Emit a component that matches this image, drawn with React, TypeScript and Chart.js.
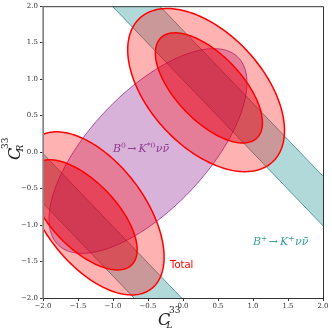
import React, { useEffect, useRef } from "react";
import { Chart, registerables } from "chart.js";

Chart.register(...registerables);

// Axis ranges and ticks
const X_RANGE = [-2, 2];
const Y_RANGE = [-2, 2];
const TICK_STEP = 0.5;

// B+ -> K+ nu nubar : bands in (C_L + C_R)
const tealBandLow = [0.99, -2.7];
const tealBandHigh = [1.67, -2.02];

// B0 -> K*0 nu nubar : ellipse (center, covariance-like shape)
const purpleCx = [-0.5];
const purpleCy = [0.015];
const purpleSxx = [2.0];
const purpleSyy = [1.97];
const purpleSxy = [1.32];

// Total : outer contours
const outerCx = [0.33, -1.27];
const outerCy = [0.85, -0.84];
const outerSxx = [1.254, 1.0];
const outerSyy = [1.25, 1.25];
const outerSxy = [-0.62, -0.6];

// Total : inner contours
const innerCx = [0.37, -1.42];
const innerCy = [0.88, -0.86];
const innerSxx = [0.585, 0.585];
const innerSyy = [0.57, 0.57];
const innerSxy = [-0.365, -0.365];

function fmt(v: number) {
  const s = Math.abs(v).toFixed(1);
  return v < 0 ? "\u2212" + s : s;
}

function ellipsePath(ctx: CanvasRenderingContext2D, xs: any, ys: any, cx: number, cy: number, sxx: number, syy: number, sxy: number) {
  const l11 = Math.sqrt(sxx);
  const l21 = sxy / l11;
  const l22 = Math.sqrt(syy - l21 * l21);
  const n = 240;
  ctx.beginPath();
  for (let i = 0; i <= n; i++) {
    const t = (2 * Math.PI * i) / n;
    const x = cx + l11 * Math.cos(t);
    const y = cy + l21 * Math.cos(t) + l22 * Math.sin(t);
    const px = xs.getPixelForValue(x);
    const py = ys.getPixelForValue(y);
    if (i === 0) ctx.moveTo(px, py);
    else ctx.lineTo(px, py);
  }
  ctx.closePath();
}

const regionsPlugin = {
  id: "regions",
  beforeDatasetsDraw(chart: any) {
    const { ctx, chartArea: a, scales } = chart;
    const xs = scales.x;
    const ys = scales.y;
    ctx.save();
    ctx.beginPath();
    ctx.rect(a.left, a.top, a.right - a.left, a.bottom - a.top);
    ctx.clip();

    // teal bands
    for (let i = 0; i < tealBandLow.length; i++) {
      const lo = tealBandLow[i];
      const hi = tealBandHigh[i];
      ctx.beginPath();
      ctx.moveTo(xs.getPixelForValue(-4), ys.getPixelForValue(lo + 4));
      ctx.lineTo(xs.getPixelForValue(4), ys.getPixelForValue(lo - 4));
      ctx.lineTo(xs.getPixelForValue(4), ys.getPixelForValue(hi - 4));
      ctx.lineTo(xs.getPixelForValue(-4), ys.getPixelForValue(hi + 4));
      ctx.closePath();
      ctx.fillStyle = "rgba(0,128,128,0.3)";
      ctx.fill();
      ctx.strokeStyle = "rgba(0,100,100,0.75)";
      ctx.lineWidth = 0.8;
      for (const c of [lo, hi]) {
        ctx.beginPath();
        ctx.moveTo(xs.getPixelForValue(-4), ys.getPixelForValue(c + 4));
        ctx.lineTo(xs.getPixelForValue(4), ys.getPixelForValue(c - 4));
        ctx.stroke();
      }
    }

    // purple ellipse
    for (let i = 0; i < purpleCx.length; i++) {
      ellipsePath(ctx, xs, ys, purpleCx[i], purpleCy[i], purpleSxx[i], purpleSyy[i], purpleSxy[i]);
      ctx.fillStyle = "rgba(128,0,128,0.3)";
      ctx.fill();
      ctx.strokeStyle = "rgba(128,0,128,0.8)";
      ctx.lineWidth = 0.8;
      ctx.stroke();
    }

    // total outer
    for (let i = 0; i < outerCx.length; i++) {
      ellipsePath(ctx, xs, ys, outerCx[i], outerCy[i], outerSxx[i], outerSyy[i], outerSxy[i]);
      ctx.fillStyle = "rgba(255,0,0,0.3)";
      ctx.fill();
      ctx.strokeStyle = "#ff0000";
      ctx.lineWidth = 1.5;
      ctx.stroke();
    }
    // total inner
    for (let i = 0; i < innerCx.length; i++) {
      ellipsePath(ctx, xs, ys, innerCx[i], innerCy[i], innerSxx[i], innerSyy[i], innerSxy[i]);
      ctx.fillStyle = "rgba(230,0,20,0.45)";
      ctx.fill();
      ctx.strokeStyle = "#ff0000";
      ctx.lineWidth = 1.5;
      ctx.stroke();
    }
    ctx.restore();
  },
  afterDraw(chart: any) {
    const { ctx, chartArea: a } = chart;
    ctx.save();
    // frame
    ctx.strokeStyle = "#333";
    ctx.lineWidth = 1;
    ctx.beginPath();
    ctx.moveTo(a.left, a.top + 0.5);
    ctx.lineTo(a.right + 0.5, a.top + 0.5);
    ctx.lineTo(a.right + 0.5, a.bottom + 0.5);
    ctx.lineTo(a.left, a.bottom + 0.5);
    ctx.stroke();
    ctx.strokeStyle = "#999";
    ctx.lineWidth = 1.6;
    ctx.beginPath();
    ctx.moveTo(a.left, a.top);
    ctx.lineTo(a.left, a.bottom + 0.5);
    ctx.stroke();

    const serif = '"DejaVu Serif", serif';
    // x title
    ctx.fillStyle = "#222";
    ctx.textBaseline = "alphabetic";
    ctx.textAlign = "left";
    ctx.font = "italic 16px " + serif;
    ctx.fillText("C", 158, 325);
    ctx.font = "9px " + serif;
    ctx.fillText("33", 169, 313);
    ctx.font = "italic 9px " + serif;
    ctx.fillText("L", 166.5, 328);

    // y title (rotated)
    ctx.save();
    ctx.translate(20, 160);
    ctx.rotate(-Math.PI / 2);
    ctx.font = "italic 16px " + serif;
    ctx.fillText("C", 0, 0);
    ctx.font = "9px " + serif;
    ctx.fillText("33", 11, -12);
    ctx.font = "italic 9px " + serif;
    ctx.fillText("R", 8.5, 3);
    ctx.restore();

    // labels
    const drawParts = (parts: any[], x: number, y: number, color: string) => {
      ctx.fillStyle = color;
      let cx = x;
      for (const p of parts) {
        ctx.font = p.font;
        ctx.fillText(p.t, cx, y + (p.dy || 0));
        cx += ctx.measureText(p.t).width + (p.gap || 0);
      }
    };
    const big = "italic 11px " + serif;
    const sup = "7.5px " + serif;
    const up = "11px " + serif;
    drawParts(
      [
        { t: "B", font: big },
        { t: "0", font: sup, dy: -4.5, gap: 1.5 },
        { t: "\u2192", font: up, gap: 2 },
        { t: "K", font: big },
        { t: "*0", font: sup, dy: -4.5, gap: 0.5 },
        { t: "\u03BD\u03BD\u0304", font: big },
      ],
      113,
      152,
      "#8e3a8e"
    );
    drawParts(
      [
        { t: "B", font: big },
        { t: "+", font: sup, dy: -4.5, gap: 1.5 },
        { t: "\u2192", font: up, gap: 2 },
        { t: "K", font: big },
        { t: "+", font: sup, dy: -4.5, gap: 0.5 },
        { t: "\u03BD\u03BD\u0304", font: big },
      ],
      253,
      245,
      "#3c9c9c"
    );
    ctx.fillStyle = "#ff0000";
    ctx.font = '10px "DejaVu Sans", sans-serif';
    ctx.fillText("Total", 170, 268);
    ctx.restore();
  },
};

export default function App() {
  const ref = useRef<HTMLCanvasElement | null>(null);
  useEffect(() => {
    if (!ref.current) return;
    const tickFont = { family: '"DejaVu Serif", serif', size: 7 };
    const chart = new Chart(ref.current, {
      type: "scatter",
      data: { datasets: [] },
      plugins: [regionsPlugin],
      options: {
        responsive: false,
        animation: false,
        devicePixelRatio: 1,
        layout: { padding: { top: 6, right: 9, left: 0, bottom: 0 } },
        plugins: { legend: { display: false }, tooltip: { enabled: false } },
        scales: {
          x: {
            type: "linear",
            min: X_RANGE[0],
            max: X_RANGE[1],
            ticks: { stepSize: TICK_STEP, font: tickFont, color: "#333", padding: 1, maxRotation: 0, autoSkip: false, callback: (v: any) => fmt(Number(v)) },
            grid: { display: true, drawOnChartArea: false, drawTicks: true, tickLength: 3, color: "#333" },
            border: { display: true, color: "#333" },
            afterFit: (s: any) => {
              s.height = 34;
            },
          },
          y: {
            type: "linear",
            min: Y_RANGE[0],
            max: Y_RANGE[1],
            ticks: { stepSize: TICK_STEP, font: tickFont, color: "#333", padding: 2, autoSkip: false, callback: (v: any) => fmt(Number(v)) },
            grid: { display: true, drawOnChartArea: false, drawTicks: true, tickLength: 3, color: "#333" },
            border: { display: true, color: "#333" },
            afterFit: (s: any) => {
              s.width = 43;
            },
          },
        },
      } as any,
    });
    return () => chart.destroy();
  }, []);
  return (
    <div style={{ position: "absolute", left: 0, top: 0, width: 332, height: 332, background: "#fff" }}>
      <canvas ref={ref} width={332} height={332} style={{ width: 332, height: 332 }} />
    </div>
  );
}
